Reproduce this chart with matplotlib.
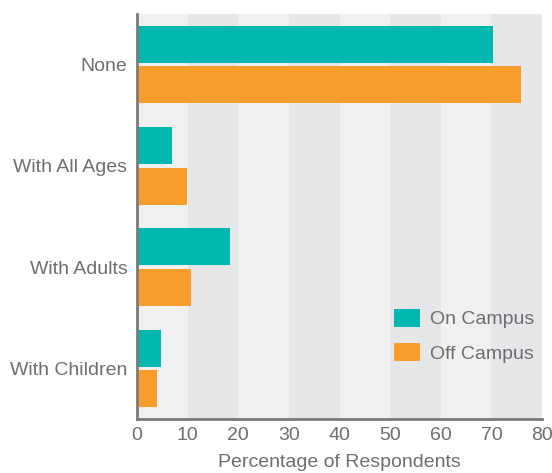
import matplotlib
matplotlib.use("Agg")
import matplotlib.pyplot as plt
import numpy as np

categories = ["None", "With All Ages", "With Adults", "With Children"]
on_campus = [70.3, 6.9, 18.4, 4.7]
off_campus = [75.9, 9.9, 10.7, 3.95]
series_names = ["On Campus", "Off Campus"]
xticks = [0, 10, 20, 30, 40, 50, 60, 70, 80]

plt.rcParams['font.family'] = ['Liberation Sans', 'DejaVu Sans']
txt = '#6d6e71'
teal = '#00b8b0'
orange = '#f89d2c'
fs = 14

fig = plt.figure(figsize=(5.52, 4.73), dpi=100)
ax = fig.add_axes([137/552, 1 - 419/473, (542-137)/552, (419-14)/473])

ax.set_xlim(0, 80)
ax.set_ylim(len(categories) - 0.5, -0.5)
for i, x0 in enumerate(xticks[:-1]):
    ax.axvspan(x0, x0 + 10, color='#f0f0f0' if i % 2 == 0 else '#e5e6e8', zorder=0, lw=0)

y = np.arange(len(categories))
h = 0.365
ax.barh(y - 0.0175 - h/2, on_campus, height=h, color=teal, label=series_names[0], zorder=2)
ax.barh(y + 0.0175 + h/2, off_campus, height=h, color=orange, label=series_names[1], zorder=2)

ax.set_yticks(y)
ax.set_yticklabels(categories)
ax.set_xticks(xticks)
ax.tick_params(axis='both', length=0, labelsize=fs, colors=txt)
ax.tick_params(axis='y', pad=7)
ax.tick_params(axis='x', pad=6)
ax.set_xlabel("Percentage of Respondents", color=txt, fontsize=fs, labelpad=7)

for s in ['top', 'right']:
    ax.spines[s].set_visible(False)
for s in ['left', 'bottom']:
    ax.spines[s].set_color('#7a7a7a')
    ax.spines[s].set_linewidth(2)

leg = ax.legend(loc='upper left', bbox_to_anchor=((386-137)/405, 1 - (301-14)/405),
                frameon=False, fontsize=fs, handlelength=1.34, handleheight=1.05,
                handletextpad=0.5, labelspacing=0.75, borderaxespad=0)
for t in leg.get_texts():
    t.set_color(txt)

fig.savefig("out.png", dpi=100)
